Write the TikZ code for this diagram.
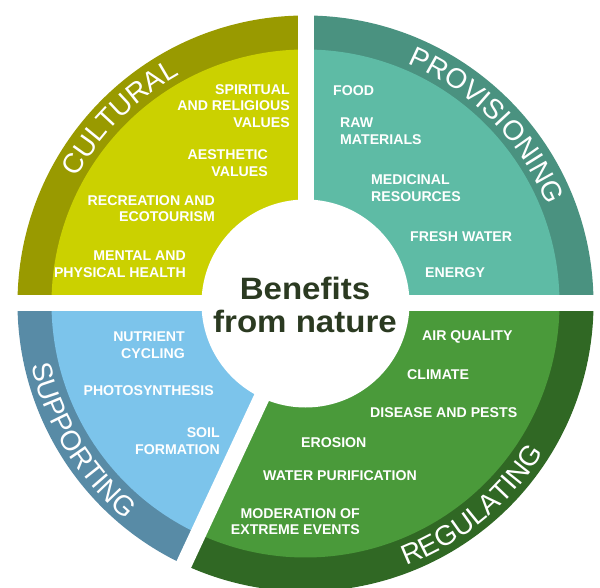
\documentclass[tikz,border=0pt]{standalone}
\usepackage{fontspec}
\setmainfont{Liberation Sans}
\newfontfamily\titlefont[FakeStretch=1.07]{Liberation Sans}
\usetikzlibrary{decorations.text}

\definecolor{culturalband}{RGB}{153,154,0}
\definecolor{culturalfill}{RGB}{203,209,0}
\definecolor{provisioningband}{RGB}{74,146,128}
\definecolor{provisioningfill}{RGB}{94,187,165}
\definecolor{supportingband}{RGB}{88,139,166}
\definecolor{supportingfill}{RGB}{124,196,235}
\definecolor{regulatingband}{RGB}{48,104,36}
\definecolor{regulatingfill}{RGB}{74,154,58}
\definecolor{titlegreen}{RGB}{43,58,33}

\newcommand{\bandfont}{\fontsize{28}{30}\selectfont}

\tikzset{
  item/.style={text=white,font=\bfseries\fontsize{14.2}{16.5}\selectfont,inner sep=0pt},
  bandtext/.style={decorate,decoration={text along path,text={|\bandfont|#1},text align=center,text color=white}},
  gap/.style={white,line width=16bp}
}

\begin{document}
\begin{tikzpicture}[x=1bp,y=1bp]
\useasboundingbox[fill=white] (-305.5,-284.5) rectangle (294.5,303.5);

% quadrants: outer band, then lighter inner part
\fill[culturalband] (0,0) -- (90:288) arc[start angle=90,end angle=180,radius=288bp] -- cycle;
\fill[culturalfill] (0,0) -- (90:254) arc[start angle=90,end angle=180,radius=254bp] -- cycle;
\fill[provisioningband] (0,0) -- (0:288) arc[start angle=0,end angle=90,radius=288bp] -- cycle;
\fill[provisioningfill] (0,0) -- (0:254) arc[start angle=0,end angle=90,radius=254bp] -- cycle;
\fill[supportingband] (0,0) -- (180:288) arc[start angle=180,end angle=245,radius=288bp] -- cycle;
\fill[supportingfill] (0,0) -- (180:254) arc[start angle=180,end angle=245,radius=254bp] -- cycle;
\fill[regulatingband] (0,0) -- (245:288) arc[start angle=245,end angle=360,radius=288bp] -- cycle;
\fill[regulatingfill] (0,0) -- (245:254) arc[start angle=245,end angle=360,radius=254bp] -- cycle;

\draw[gap] (-300,0) -- (300,0);
\draw[gap] (0,0) -- (0,300);
\draw[gap] (0,0) -- (245:300);
\fill[white] (0,0) circle[radius=104bp];

% band titles
\path[bandtext=CULTURAL] (175:261) arc[start angle=175,end angle=95,radius=261bp];
\path[bandtext=PROVISIONING] (85:261) arc[start angle=85,end angle=4,radius=261bp];
\path[bandtext=SUPPORTING] (183:281) arc[start angle=183,end angle=240,radius=281bp];
\path[bandtext=REGULATING] (262:281) arc[start angle=262,end angle=357,radius=281bp];

% cultural
\node[item,anchor=east,align=right] (spiritual) at (-15.5,197.5) {SPIRITUAL\\AND RELIGIOUS\\VALUES};
\node[item,anchor=east,align=right] (aesthetic) at (-37.5,140.5) {AESTHETIC\\VALUES};
\node[item,anchor=east,align=right] (recreation) at (-90.5,95) {RECREATION AND\\ECOTOURISM};
\node[item,anchor=east,align=right] (mental) at (-119.5,39.5) {MENTAL AND\\PHYSICAL HEALTH};

% provisioning
\node[item,anchor=west] (food) at (27.5,212.5) {FOOD};
\node[item,anchor=west,align=left] (raw) at (34.5,172.5) {RAW\\MATERIALS};
\node[item,anchor=west,align=left] (medicinal) at (65.5,115.5) {MEDICINAL\\RESOURCES};
\node[item,anchor=west] (freshwater) at (104.5,66.5) {FRESH WATER};
\node[item,anchor=west] (energy) at (119.5,30.5) {ENERGY};

% supporting
\node[item,anchor=east,align=right] (nutrient) at (-120.5,-41.5) {NUTRIENT\\CYCLING};
\node[item,anchor=east] (photosynthesis) at (-91.5,-87.5) {PHOTOSYNTHESIS};
\node[item,anchor=east,align=right] (soil) at (-85.5,-137.5) {SOIL\\FORMATION};

% regulating
\node[item,anchor=west] (air) at (116.5,-33.5) {AIR QUALITY};
\node[item,anchor=west] (climate) at (101.5,-71.5) {CLIMATE};
\node[item,anchor=west] (disease) at (64.5,-109.5) {DISEASE AND PESTS};
\node[item,anchor=west] (erosion) at (-4.5,-139.5) {EROSION};
\node[item,anchor=west] (water) at (-42.5,-172.5) {WATER PURIFICATION};
\node[item,anchor=east,align=right] (moderation) at (54.5,-218) {MODERATION OF\\EXTREME EVENTS};

% centre
\node[anchor=base,text=titlegreen,font=\titlefont\bfseries\fontsize{31}{33}\selectfont] (benefits) at (-0.5,3.5) {Benefits};
\node[anchor=base,text=titlegreen,font=\titlefont\bfseries\fontsize{31}{33}\selectfont] (fromnature) at (-0.5,-29.5) {from nature};
\end{tikzpicture}
\end{document}
